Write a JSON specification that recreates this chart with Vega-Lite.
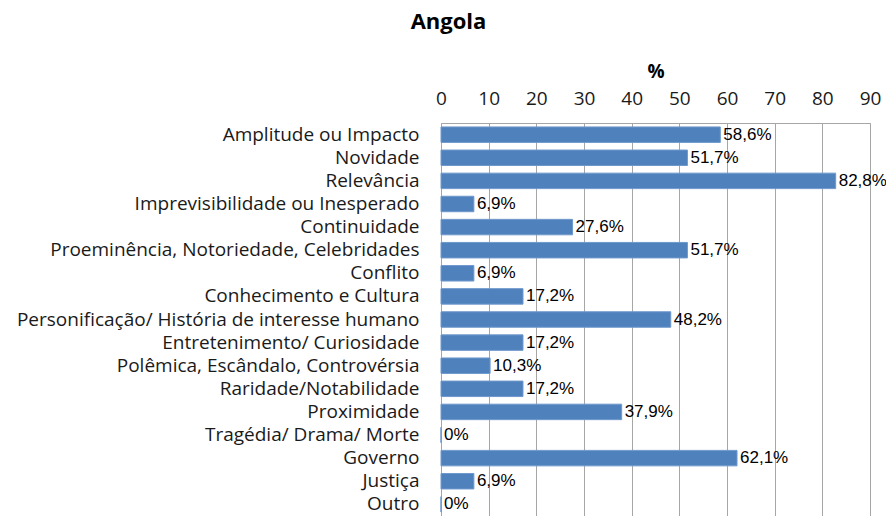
{
  "$schema": "https://vega.github.io/schema/vega-lite/v6.json",
  "autosize": "none",
  "width": 429,
  "height": 393,
  "padding": {"left": 441, "top": 123, "right": 16, "bottom": 0},
  "background": "white",
  "title": {"text": "Angola", "anchor": "middle", "frame": "group", "dx": -207, "offset": 28, "fontSize": 22, "font": "Open Sans", "fontWeight": "bold", "color": "#000"},
  "config": {"view": {"stroke": "#a6a6a6", "strokeWidth": 1}},
  "data": {"values": [
    {"category": "Amplitude ou Impacto", "value": 58.6},
    {"category": "Novidade", "value": 51.7},
    {"category": "Relevância", "value": 82.8},
    {"category": "Imprevisibilidade ou Inesperado", "value": 6.9},
    {"category": "Continuidade", "value": 27.6},
    {"category": "Proeminência, Notoriedade, Celebridades", "value": 51.7},
    {"category": "Conflito", "value": 6.9},
    {"category": "Conhecimento e Cultura", "value": 17.2},
    {"category": "Personificação/ História de interesse humano", "value": 48.2},
    {"category": "Entretenimento/ Curiosidade", "value": 17.2},
    {"category": "Polêmica, Escândalo, Controvérsia", "value": 10.3},
    {"category": "Raridade/Notabilidade", "value": 17.2},
    {"category": "Proximidade", "value": 37.9},
    {"category": "Tragédia/ Drama/ Morte", "value": 0},
    {"category": "Governo", "value": 62.1},
    {"category": "Justiça", "value": 6.9},
    {"category": "Outro", "value": 0}
  ]},
  "transform": [
    {"calculate": "replace(format(datum.value, '.1~f'), '.', ',') + '%'", "as": "label"}
  ],
  "encoding": {
    "y": {"field": "category", "type": "nominal", "sort": null,
      "scale": {"paddingInner": 0.33, "paddingOuter": 0.17},
      "axis": {"title": null, "ticks": false, "domain": false, "labelFont": "Open Sans", "labelFontSize": 19, "labelColor": "#1a1a1a", "labelPadding": 22, "labelLimit": 500}
    },
    "x": {"field": "value", "type": "quantitative",
      "scale": {"domain": [0, 90], "nice": false},
      "axis": {"orient": "top", "title": "%", "values": [0,10,20,30,40,50,60,70,80,90], "titleFont": "Open Sans", "titleFontSize": 19, "titleFontWeight": "bold", "titleColor": "#000", "titlePadding": 8, "labelFont": "Open Sans", "labelFontSize": 19, "labelColor": "#1a1a1a", "labelPadding": 15, "ticks": false, "domain": false, "grid": true, "gridColor": "#a6a6a6", "gridOpacity": 1, "labelFlush": false}
    }
  },
  "layer": [
    {"mark": {"type": "bar", "color": "#4F81BD", "stroke": "#6f98cc", "strokeWidth": 1}},
    {"mark": {"type": "text", "align": "left", "baseline": "middle", "dx": 3, "font": "Liberation Sans", "fontSize": 17, "color": "#000"},
      "encoding": {"text": {"field": "label"}}}
  ]
}
